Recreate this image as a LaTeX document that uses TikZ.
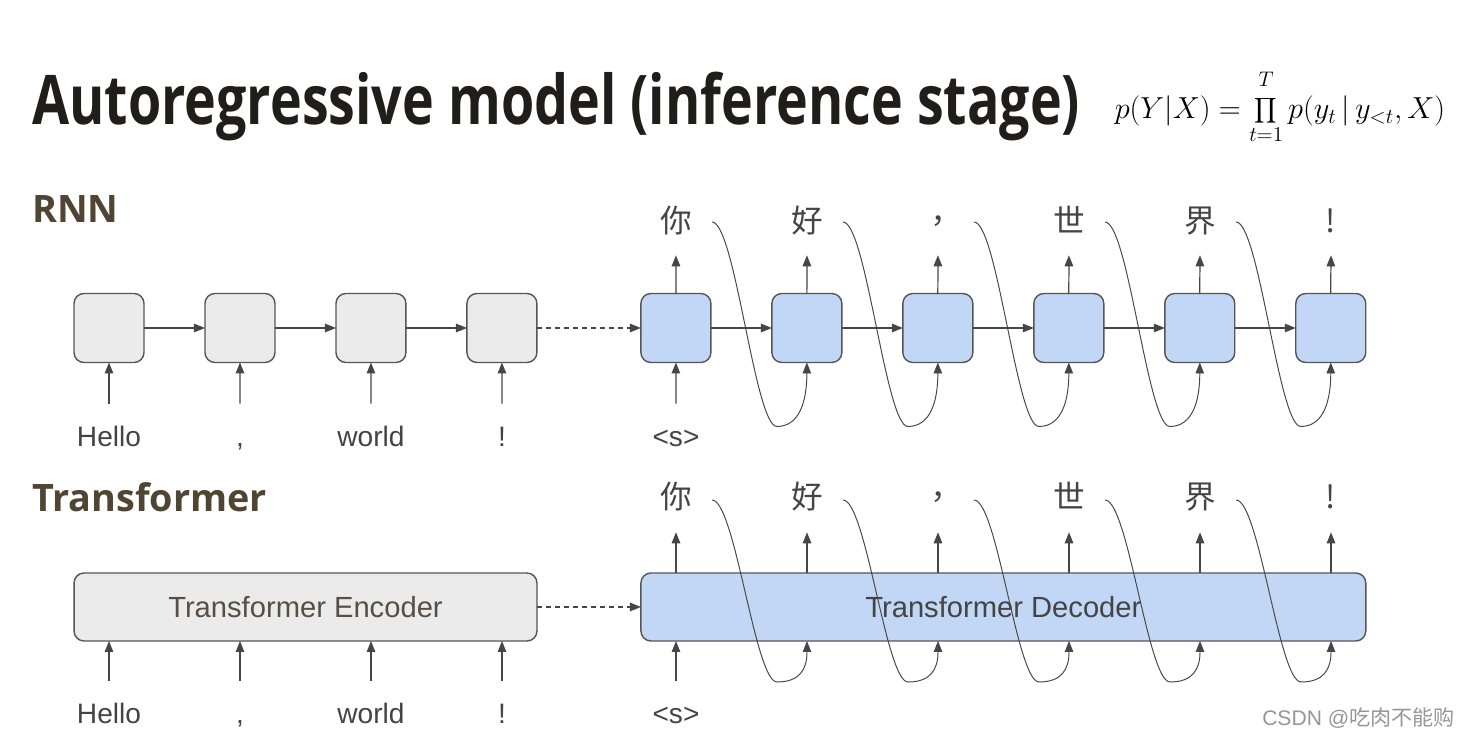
\documentclass[tikz,border=0pt]{standalone}
\usepackage{fontspec}
\setmainfont{Liberation Sans}
\newfontfamily\titlefont[FakeStretch=0.785]{Open Sans}
\newfontfamily\headfont{Open Sans}
\newfontfamily\cjkfont{Noto Sans CJK TC}
\newfontfamily\wmfont{Noto Sans CJK SC}
\usetikzlibrary{positioning,calc,arrows.meta}
\definecolor{boxgray}{RGB}{235,235,235}
\definecolor{boxblue}{RGB}{194,214,245}
\definecolor{linegray}{RGB}{85,85,85}
\definecolor{arrowgray}{RGB}{70,70,70}
\definecolor{textgray}{RGB}{68,68,68}
\definecolor{enctext}{RGB}{88,78,68}
\definecolor{headbrown}{RGB}{80,68,50}
\definecolor{titleblack}{RGB}{33,30,26}
\definecolor{wmgray}{RGB}{150,150,150}

\begin{document}
\begin{tikzpicture}[x=0.02cm, y=-0.02cm, node distance=1.22cm,
    rnn/.style = {draw=linegray, fill=boxgray, rounded corners=0.2cm, minimum width=1.4cm, minimum height=1.38cm, line width=0.8pt, outer sep=0pt},
    dec/.style = {rnn, fill=boxblue},
    word/.style = {inner sep=0, anchor=base, text=textgray, font=\fontsize{16}{18}\selectfont, text height=12pt, text depth=3pt},
    zh/.style = {inner sep=0, text=textgray, font=\cjkfont\fontsize{18}{20}\selectfont, text height=15pt, text depth=2pt},
    arr/.style = {-{Triangle[length=0.22cm,width=0.17cm]}, draw=arrowgray, line width=0.7pt},
    back/.style = {arr, line width=0.55pt}]
    \useasboundingbox[fill=white] (0,0) rectangle (1469,739);

    % Titolo e formula
    \node[anchor=base west, inner sep=0, text=titleblack, font=\titlefont\bfseries\fontsize{39}{46}\selectfont] (title) at (32,125) {Autoregressive model (inference stage)};
    \node[inner sep=0, font=\fontsize{17}{20}\selectfont] (formula) at (1280,107) {$\displaystyle p(Y|X)=\prod_{t=1}^{\raisebox{4pt}{$\scriptstyle T$}}p(y_t\,|\,y_{<t},X)$};
    \node[anchor=base west, inner sep=0, text=headbrown, font=\headfont\bfseries\fontsize{21.5}{26}\selectfont] (rnnlab) at (32,223) {RNN};
    \node[anchor=base west, inner sep=0, text=headbrown, font=\headfont\bfseries\fontsize{21.5}{26}\selectfont] (trlab) at (32,511) {Transformer};

    % Celle RNN
    \node[rnn] (r1) at (109,328) {};
    \node[rnn] (r2) [right=of r1] {};
    \node[rnn] (r3) [right=of r2] {};
    \node[rnn] (r4) [right=of r3] {};
    \node[dec] (d1) [right=2.08cm of r4] {};
    \node[dec] (d2) [right=of d1] {};
    \node[dec] (d3) [right=of d2] {};
    \node[dec] (d4) [right=of d3] {};
    \node[dec] (d5) [right=of d4] {};
    \node[dec] (d6) [right=of d5] {};

    % Parole in ingresso e in uscita (RNN)
    \node[word] (w1) at (109,446) {Hello};
    \node[word] (w2) at (240,446) {,};
    \node[word] (w3) at (371,446) {world};
    \node[word] (w4) at (502,446) {!};
    \node[word] (s1) at (676,446) {<s>};
    \node[zh] (o1) at (676,221) {你};
    \node[zh] (o2) at (807,221) {好};
    \node[zh] (o3) at (938,221) {，};
    \node[zh] (o4) at (1069,221) {世};
    \node[zh] (o5) at (1200,221) {界};
    \node[zh] (o6) at (1331,221) {!};

    % Encoder e decoder Transformer
    \node[rnn, minimum width=9.26cm, minimum height=1.36cm, text=enctext, font=\fontsize{16.6}{19}\selectfont] (enc) at (305.5,607) {Transformer Encoder};
    \node[dec, minimum width=14.5cm, minimum height=1.36cm, text=textgray, font=\fontsize{16.6}{19}\selectfont] (decd) [right=2.08cm of enc] {Transformer Decoder};

    % Parole in ingresso e in uscita (Transformer)
    \node[word] (v1) at (109,723) {Hello};
    \node[word] (v2) at (240,723) {,};
    \node[word] (v3) at (371,723) {world};
    \node[word] (v4) at (502,723) {!};
    \node[word] (s2) at (676,723) {<s>};
    \node[zh] (p1) at (676,497) {你};
    \node[zh] (p2) at (807,497) {好};
    \node[zh] (p3) at (938,497) {，};
    \node[zh] (p4) at (1069,497) {世};
    \node[zh] (p5) at (1200,497) {界};
    \node[zh] (p6) at (1331,497) {!};

    \node[anchor=east, inner sep=0, text=wmgray, font=\fontsize{12}{14}\selectfont] (wm) at (1455,718) {CSDN @{\wmfont 吃肉不能购}};

    % Archi RNN
    \foreach \a/\b in {r1/r2,r2/r3,r3/r4,d1/d2,d2/d3,d3/d4,d4/d5,d5/d6}
        \draw[arr] (\a) -- (\b);
    \draw[arr, dash pattern=on 0.1cm off 0.08cm] (r4) -- (d1);
    \foreach \w/\c in {w1/r1,w2/r2,w3/r3,w4/r4,s1/d1}
        \draw[arr, shorten <=0.42cm] (\w.north) -- (\c.south);
    \foreach \c/\o in {d1/o1,d2/o2,d3/o3,d4/o4,d5/o5,d6/o6}
        \draw[arr, shorten >=0.38cm] (\c.north) -- (\o.south);
    % Uscita riportata in ingresso
    \foreach \o/\c in {o1/d2,o2/d3,o3/d4,o4/d5,o5/d6}
        \draw[back] ($(\o)+(36,1)$) .. controls +(23,0) and +(-22,0) .. ($(\c.south)+(-30,64)$) .. controls +(23,0) and +(0,38) .. (\c.south);

    % Archi Transformer
    \draw[arr, dash pattern=on 0.1cm off 0.08cm] (enc) -- (decd);
    \foreach \w in {v1,v2,v3,v4}
        \draw[arr, shorten <=0.42cm] (\w.north) -- (\w |- enc.south);
    \draw[arr, shorten <=0.42cm] (s2.north) -- (s2 |- decd.south);
    \foreach \p in {p1,p2,p3,p4,p5,p6}
        \draw[arr, shorten >=0.4cm] (\p |- decd.north) -- (\p.south);
    \foreach \p/\q in {p1/p2,p2/p3,p3/p4,p4/p5,p5/p6}
        \draw[back] ($(\p)+(36,3)$) .. controls +(23,0) and +(-22,0) .. ($(\q |- decd.south)+(-30,41)$) .. controls +(23,0) and +(0,28) .. (\q |- decd.south);
\end{tikzpicture}
\end{document}
